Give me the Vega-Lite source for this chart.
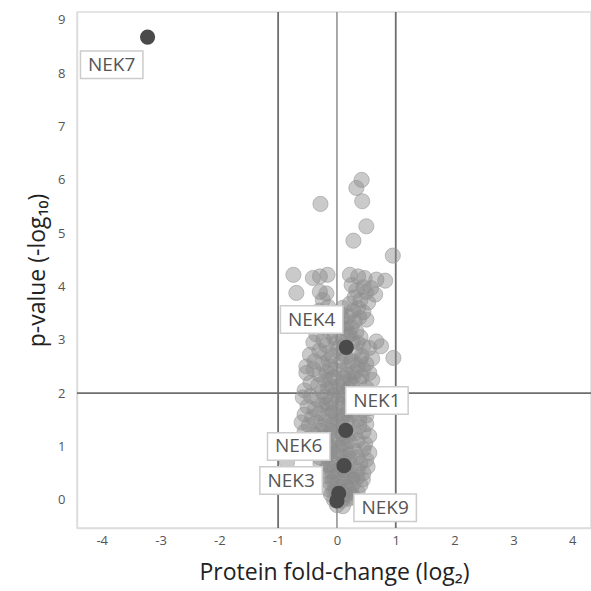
{
  "$schema": "https://vega.github.io/schema/vega-lite/v6.json",
  "width": 514,
  "height": 516,
  "autosize": {"type": "none"},
  "padding": {"left": 77, "top": 12, "right": 0, "bottom": 63},
  "background": "white",
  "config": {
    "view": {"stroke": "#dddddd", "strokeWidth": 1.5},
    "font": "Open Sans",
    "axis": {
      "grid": false,
      "ticks": false,
      "domainColor": "#dddddd",
      "domainWidth": 1.5,
      "labelColor": "#555555",
      "labelFontSize": 13,
      "labelFont": "Open Sans",
      "titleFont": "Open Sans",
      "titleFontSize": 23,
      "titleFontWeight": "normal",
      "titleColor": "#222222"
    }
  },
  "datasets": {
    "bg": [
      {"x":0.42,"y":6.0},{"x":0.33,"y":5.85},{"x":0.43,"y":5.6},{"x":-0.28,"y":5.55},{"x":0.5,"y":5.13},{"x":0.28,"y":4.86},{"x":0.95,"y":4.58},
      {"x":-0.74,"y":4.22},{"x":-0.69,"y":3.88},{"x":-0.41,"y":4.16},{"x":-0.29,"y":4.19},{"x":-0.16,"y":4.22},{"x":-0.29,"y":3.9},{"x":-0.18,"y":3.87},{"x":0.22,"y":4.22},{"x":0.36,"y":4.19},{"x":0.47,"y":4.16},{"x":0.67,"y":4.13},{"x":0.82,"y":4.11},{"x":0.25,"y":4.03},{"x":0.45,"y":3.99},{"x":0.58,"y":3.97},{"x":0.65,"y":3.85},{"x":0.33,"y":3.93},{"x":0.5,"y":3.9},
      {"x":0.3,"y":3.8},{"x":0.4,"y":3.75},{"x":0.53,"y":3.7},{"x":0.22,"y":3.68},{"x":0.36,"y":3.6},{"x":0.28,"y":3.55},{"x":0.45,"y":3.52},{"x":0.2,"y":3.45},{"x":0.38,"y":3.42},{"x":0.3,"y":3.35},{"x":0.5,"y":3.38},{"x":0.16,"y":3.3},{"x":0.25,"y":3.25},{"x":-0.24,"y":3.75},{"x":-0.15,"y":3.62},{"x":-0.3,"y":3.55},{"x":-0.1,"y":3.45},{"x":-0.22,"y":3.4},{"x":0.05,"y":3.5},{"x":0.1,"y":3.6},
      {"x":0.15,"y":3.2},{"x":0.33,"y":3.15},{"x":0.2,"y":3.08},{"x":0.4,"y":3.05},{"x":0.1,"y":3.0},{"x":0.27,"y":2.97},{"x":0.67,"y":2.97},{"x":0.75,"y":2.88},{"x":0.55,"y":2.85},{"x":-0.23,"y":3.0},{"x":-0.35,"y":3.1},{"x":-0.12,"y":3.15},{"x":-0.05,"y":3.05},{"x":-0.4,"y":2.95},{"x":-0.18,"y":2.9},{"x":0.05,"y":3.25},
      {"x":-0.46,"y":2.72},{"x":-0.3,"y":2.8},{"x":-0.2,"y":2.75},{"x":-0.08,"y":2.7},{"x":0.02,"y":2.85},{"x":0.3,"y":2.78},{"x":0.42,"y":2.7},{"x":0.6,"y":2.65},{"x":0.96,"y":2.66},{"x":0.25,"y":2.6},{"x":-0.38,"y":2.6},{"x":-0.25,"y":2.55},{"x":-0.12,"y":2.5},{"x":0.08,"y":2.6},{"x":0.35,"y":2.52},{"x":0.5,"y":2.55},{"x":0.15,"y":2.68},{"x":-0.52,"y":2.5},
      {"x":-0.52,"y":2.38},{"x":-0.4,"y":2.45},{"x":-0.3,"y":2.35},{"x":-0.18,"y":2.4},{"x":-0.05,"y":2.3},{"x":0.05,"y":2.42},{"x":0.18,"y":2.35},{"x":0.3,"y":2.4},{"x":0.42,"y":2.32},{"x":0.55,"y":2.38},{"x":-0.45,"y":2.2},{"x":-0.32,"y":2.15},{"x":-0.2,"y":2.25},{"x":-0.08,"y":2.12},{"x":0.1,"y":2.2},{"x":0.25,"y":2.15},{"x":0.38,"y":2.22},{"x":0.5,"y":2.1},{"x":-0.55,"y":2.05},{"x":0.0,"y":2.05},{"x":0.15,"y":2.02},{"x":-0.25,"y":2.03},{"x":0.6,"y":2.25},{"x":0.32,"y":2.0},
      {"x":-0.58,"y":1.92},{"x":-0.45,"y":1.95},{"x":-0.33,"y":1.88},{"x":-0.2,"y":1.93},{"x":-0.1,"y":1.85},{"x":0.03,"y":1.9},{"x":0.12,"y":1.95},{"x":0.22,"y":1.87},{"x":0.35,"y":1.92},{"x":0.48,"y":1.85},{"x":-0.5,"y":1.75},{"x":-0.38,"y":1.7},{"x":-0.25,"y":1.78},{"x":-0.12,"y":1.72},{"x":0.05,"y":1.75},{"x":0.18,"y":1.7},{"x":0.3,"y":1.75},{"x":0.42,"y":1.68},{"x":0.55,"y":1.72},{"x":-0.55,"y":1.6},{"x":-0.42,"y":1.55},{"x":-0.3,"y":1.62},{"x":-0.15,"y":1.58},{"x":-0.02,"y":1.6},{"x":0.1,"y":1.55},{"x":0.25,"y":1.6},{"x":0.38,"y":1.52},{"x":0.5,"y":1.58},
      {"x":-0.6,"y":1.45},{"x":-0.48,"y":1.4},{"x":-0.35,"y":1.45},{"x":-0.22,"y":1.38},{"x":-0.08,"y":1.42},{"x":0.05,"y":1.4},{"x":0.25,"y":1.45},{"x":0.38,"y":1.38},{"x":0.5,"y":1.42},{"x":-0.55,"y":1.28},{"x":-0.4,"y":1.25},{"x":-0.28,"y":1.3},{"x":-0.15,"y":1.22},{"x":0.0,"y":1.28},{"x":0.3,"y":1.25},{"x":0.45,"y":1.28},{"x":0.55,"y":1.2},{"x":-0.66,"y":1.12},{"x":-0.45,"y":1.1},{"x":-0.32,"y":1.15},{"x":-0.18,"y":1.08},{"x":-0.05,"y":1.12},{"x":0.1,"y":1.05},{"x":0.22,"y":1.1},{"x":0.35,"y":1.12},{"x":0.48,"y":1.05},{"x":-0.38,"y":1.0},{"x":0.2,"y":1.2},
      {"x":-0.35,"y":0.95},{"x":-0.22,"y":0.92},{"x":-0.1,"y":0.98},{"x":0.02,"y":0.9},{"x":0.15,"y":0.95},{"x":0.3,"y":0.92},{"x":0.45,"y":0.95},{"x":0.55,"y":0.88},{"x":-0.3,"y":0.8},{"x":-0.18,"y":0.82},{"x":-0.05,"y":0.78},{"x":0.08,"y":0.82},{"x":0.22,"y":0.78},{"x":0.35,"y":0.8},{"x":0.5,"y":0.75},{"x":-0.28,"y":0.68},{"x":-0.15,"y":0.65},{"x":-0.02,"y":0.7},{"x":0.25,"y":0.65},{"x":0.4,"y":0.68},{"x":0.52,"y":0.62},{"x":-0.2,"y":0.55},{"x":-0.08,"y":0.52},{"x":0.05,"y":0.58},{"x":0.2,"y":0.52},{"x":0.35,"y":0.55},{"x":0.45,"y":0.5},{"x":-0.85,"y":0.7},
      {"x":-0.17,"y":0.45},{"x":-0.05,"y":0.42},{"x":0.08,"y":0.4},{"x":0.22,"y":0.44},{"x":0.35,"y":0.42},{"x":0.44,"y":0.38},{"x":-0.12,"y":0.32},{"x":0.0,"y":0.3},{"x":0.15,"y":0.33},{"x":0.28,"y":0.3},{"x":0.4,"y":0.28},{"x":-0.15,"y":0.2},{"x":-0.03,"y":0.22},{"x":0.1,"y":0.18},{"x":0.22,"y":0.2},{"x":0.35,"y":0.15},{"x":-0.1,"y":0.1},{"x":0.02,"y":0.08},{"x":0.15,"y":0.1},{"x":0.28,"y":0.05},{"x":-0.05,"y":0.0},{"x":0.08,"y":-0.02},{"x":0.2,"y":0.02},{"x":0.0,"y":-0.1},{"x":0.1,"y":-0.12},
      {"x":-0.02,"y":2.95},{"x":0.12,"y":2.9},{"x":0.06,"y":2.75},{"x":-0.14,"y":2.62},{"x":0.2,"y":2.52},{"x":-0.04,"y":2.45},{"x":0.12,"y":2.3},{"x":-0.12,"y":2.28},{"x":0.22,"y":2.25},{"x":0.04,"y":2.15},{"x":-0.16,"y":2.1},{"x":0.18,"y":2.1},
      {"x":-0.06,"y":1.98},{"x":0.08,"y":1.82},{"x":-0.18,"y":1.8},{"x":0.15,"y":1.62},{"x":-0.08,"y":1.65},{"x":0.02,"y":1.5},{"x":-0.2,"y":1.48},{"x":0.18,"y":1.48},{"x":-0.1,"y":1.32},{"x":0.08,"y":1.22},{"x":-0.22,"y":1.2},{"x":0.12,"y":1.15},
      {"x":-0.12,"y":1.02},{"x":0.05,"y":1.0},{"x":0.2,"y":0.88},{"x":-0.12,"y":0.88},{"x":0.12,"y":0.72},{"x":-0.1,"y":0.62},{"x":0.15,"y":0.6},{"x":-0.02,"y":0.48},{"x":0.12,"y":0.48},{"x":0.28,"y":0.4},{"x":-0.08,"y":0.36},{"x":0.05,"y":0.26},{"x":0.18,"y":0.26},{"x":-0.06,"y":0.16},{"x":0.12,"y":0.04},{"x":0.25,"y":0.12},
      {"x":0.1,"y":3.4},{"x":-0.05,"y":3.3},{"x":0.22,"y":3.12},{"x":0.35,"y":2.95},{"x":0.45,"y":2.88},{"x":0.4,"y":2.62},{"x":0.28,"y":2.3},{"x":0.45,"y":2.45}
    ],
    "nek": [
      {"name":"NEK7","x":-3.22,"y":8.68,"lx":-3.83,"ly":8.16},
      {"name":"NEK4","x":0.16,"y":2.86,"lx":-0.43,"ly":3.38},
      {"name":"NEK1","x":0.15,"y":1.30,"lx":0.68,"ly":1.86},
      {"name":"NEK6","x":0.12,"y":0.64,"lx":-0.65,"ly":1.0},
      {"name":"NEK3","x":0.0,"y":-0.02,"lx":-0.78,"ly":0.36},
      {"name":"NEK9","x":0.03,"y":0.12,"lx":0.82,"ly":-0.15}
    ],
    "vref": [{"v":-1},{"v":1}],
    "zref": [{"v":0}],
    "href": [{"v":2}]
  },
  "layer": [
    {
      "data": {"name": "vref"},
      "mark": {"type": "rule", "color": "#6e6e6e", "strokeWidth": 1.8},
      "encoding": {"x": {"field": "v", "type": "quantitative", "scale": {"domain": [-4.42, 4.32], "nice": false, "zero": false}, "axis": {"values": [-4,-3,-2,-1,0,1,2,3,4], "labelExpr": "'' + datum.value", "title": "Protein fold-change (log₂)", "labelPadding": 6, "titlePadding": 14}}}
    },
    {
      "data": {"name": "zref"},
      "mark": {"type": "rule", "color": "#a0a0a0", "strokeWidth": 1.8},
      "encoding": {"x": {"field": "v", "type": "quantitative"}}
    },
    {
      "data": {"name": "href"},
      "mark": {"type": "rule", "color": "#6e6e6e", "strokeWidth": 1.8},
      "encoding": {"y": {"field": "v", "type": "quantitative", "scale": {"domain": [-0.53, 9.15], "nice": false, "zero": false}, "axis": {"values": [0,1,2,3,4,5,6,7,8,9], "labelExpr": "'' + datum.value", "title": "p-value (-log₁₀)", "labelPadding": 12, "titlePadding": 8}}}
    },
    {
      "data": {"name": "bg"},
      "mark": {"type": "circle", "size": 230, "color": "#8a8a8a", "fillOpacity": 0.45, "stroke": "#9a9a9a", "strokeWidth": 1, "strokeOpacity": 0.6},
      "encoding": {
        "x": {"field": "x", "type": "quantitative"},
        "y": {"field": "y", "type": "quantitative"}
      }
    },
    {
      "data": {"name": "nek"},
      "mark": {"type": "circle", "size": 230, "color": "#4a4a4a", "opacity": 1},
      "encoding": {
        "x": {"field": "x", "type": "quantitative"},
        "y": {"field": "y", "type": "quantitative"}
      }
    },
    {
      "data": {"name": "nek"},
      "mark": {"type": "point", "shape": "M-1,-0.44H1V0.44H-1Z", "size": 3900, "filled": true, "fill": "white", "fillOpacity": 1, "stroke": "#cccccc", "strokeWidth": 1.5, "opacity": 1},
      "encoding": {
        "x": {"field": "lx", "type": "quantitative"},
        "y": {"field": "ly", "type": "quantitative"}
      }
    },
    {
      "data": {"name": "nek"},
      "mark": {"type": "text", "fontSize": 19, "color": "#555555", "font": "Open Sans", "align": "center", "baseline": "middle"},
      "encoding": {
        "x": {"field": "lx", "type": "quantitative"},
        "y": {"field": "ly", "type": "quantitative"},
        "text": {"field": "name", "type": "nominal"}
      }
    }
  ]
}
